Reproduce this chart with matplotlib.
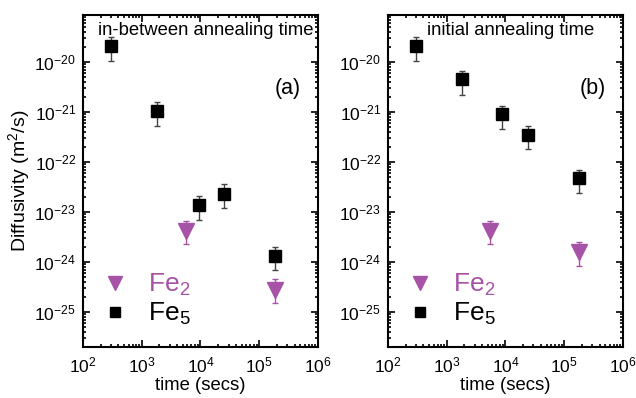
import matplotlib.pyplot as plt
from matplotlib.lines import Line2D
from matplotlib.ticker import FixedLocator, LogLocator, NullFormatter

plt.rcParams['font.family'] = ['Liberation Sans', 'DejaVu Sans']
plt.rcParams['mathtext.fontset'] = 'custom'
plt.rcParams['mathtext.rm'] = 'Liberation Sans'
plt.rcParams['mathtext.it'] = 'Liberation Sans:italic'
plt.rcParams['mathtext.bf'] = 'Liberation Sans:bold'

FE2_COLOR = '#A652A6'

x_ticks = [1e2, 1e3, 1e4, 1e5, 1e6]
y_ticks = [1e-25, 1e-24, 1e-23, 1e-22, 1e-21, 1e-20]

# (a) in-between annealing time
a_fe5_t = [300, 1840, 9300, 25000, 185000]
a_fe5_d = [2.1e-20, 1.06e-21, 1.4e-23, 2.35e-23, 1.34e-24]
a_fe5_lo = [1.06e-20, 5.3e-22, 7.0e-24, 1.2e-23, 6.8e-25]
a_fe5_hi = [3.2e-20, 1.56e-21, 2.1e-23, 3.6e-23, 1.96e-24]

a_fe2_t = [5600, 185000]
a_fe2_d = [4.2e-24, 2.75e-25]
a_fe2_lo = [2.3e-24, 1.5e-25]
a_fe2_hi = [6.7e-24, 4.5e-25]

# (b) initial annealing time
b_fe5_t = [300, 1840, 8900, 24500, 180000]
b_fe5_d = [2.1e-20, 4.5e-21, 9.0e-22, 3.5e-22, 4.7e-23]
b_fe5_lo = [1.06e-20, 2.2e-21, 4.5e-22, 1.8e-22, 2.4e-23]
b_fe5_hi = [3.2e-20, 6.7e-21, 1.34e-21, 5.2e-22, 6.9e-23]

b_fe2_t = [5500, 180000]
b_fe2_d = [4.2e-24, 1.56e-24]
b_fe2_lo = [2.3e-24, 8.3e-25]
b_fe2_hi = [6.7e-24, 2.47e-24]


def yerr(d, lo, hi):
    return [[v - l for v, l in zip(d, lo)], [h - v for v, h in zip(d, hi)]]


def draw_panel(ax, fe5, fe2, title, tag):
    t5, d5, lo5, hi5 = fe5
    t2, d2, lo2, hi2 = fe2
    ax.errorbar(t2, d2, yerr=yerr(d2, lo2, hi2), fmt='v', color=FE2_COLOR,
                ms=11, ecolor=FE2_COLOR, elinewidth=1, capsize=2.5, capthick=1)
    ax.errorbar(t5, d5, yerr=yerr(d5, lo5, hi5), fmt='s', color='black',
                ms=9, ecolor='#444444', elinewidth=1, capsize=2.5, capthick=1)

    ax.set_xscale('log')
    ax.set_yscale('log')
    ax.set_xlim(1e2, 1e6)
    ax.set_ylim(2e-26, 8.7e-20)
    ax.xaxis.set_major_locator(FixedLocator(x_ticks))
    ax.yaxis.set_major_locator(FixedLocator(y_ticks))
    ax.xaxis.set_minor_locator(LogLocator(base=10, subs=range(2, 10), numticks=20))
    ax.yaxis.set_minor_locator(LogLocator(base=10, subs=range(2, 10), numticks=20))
    ax.xaxis.set_minor_formatter(NullFormatter())
    ax.yaxis.set_minor_formatter(NullFormatter())
    ax.tick_params(which='both', direction='in', top=True, right=True,
                   labelsize=12.5, width=1.2)
    ax.tick_params(which='major', length=5, pad=5)
    ax.tick_params(axis='x', which='major', pad=6)
    ax.tick_params(which='minor', length=2.5)
    for s in ax.spines.values():
        s.set_linewidth(1.5)

    ax.set_xlabel('time (secs)', fontsize=13.3, labelpad=1)
    ax.text(0.523, 0.955, title, transform=ax.transAxes, fontsize=13.3,
            ha='center', va='center')
    ax.text(0.87, 0.78, tag, transform=ax.transAxes, fontsize=15.5,
            ha='center', va='center')

    # legend markers without error bars
    handles = [
        Line2D([], [], ls='none', marker='v', ms=10, color=FE2_COLOR),
        Line2D([], [], ls='none', marker='s', ms=7.5, color='black'),
    ]
    leg = ax.legend(handles, ['Fe$_2$', 'Fe$_5$'], loc='center left',
                    bbox_to_anchor=(0.0, 0.143), frameon=False, fontsize=19,
                    handlelength=1.63, handletextpad=0.44, labelspacing=0.12,
                    borderaxespad=0, borderpad=0.4)
    leg.get_texts()[0].set_color(FE2_COLOR)
    leg.get_texts()[1].set_color('black')


fig = plt.figure(figsize=(6.36, 3.98), dpi=100)
ax1 = fig.add_axes([0.1305, 0.128, 0.3695, 0.834])
ax2 = fig.add_axes([0.610, 0.128, 0.3695, 0.834])

draw_panel(ax1, (a_fe5_t, a_fe5_d, a_fe5_lo, a_fe5_hi),
           (a_fe2_t, a_fe2_d, a_fe2_lo, a_fe2_hi),
           'in-between annealing time', '(a)')
draw_panel(ax2, (b_fe5_t, b_fe5_d, b_fe5_lo, b_fe5_hi),
           (b_fe2_t, b_fe2_d, b_fe2_lo, b_fe2_hi),
           'initial annealing time', '(b)')
ax1.set_ylabel('Diffusivity (m$^2$/s)', fontsize=14, labelpad=2)

fig.savefig('out.png', dpi=100)
